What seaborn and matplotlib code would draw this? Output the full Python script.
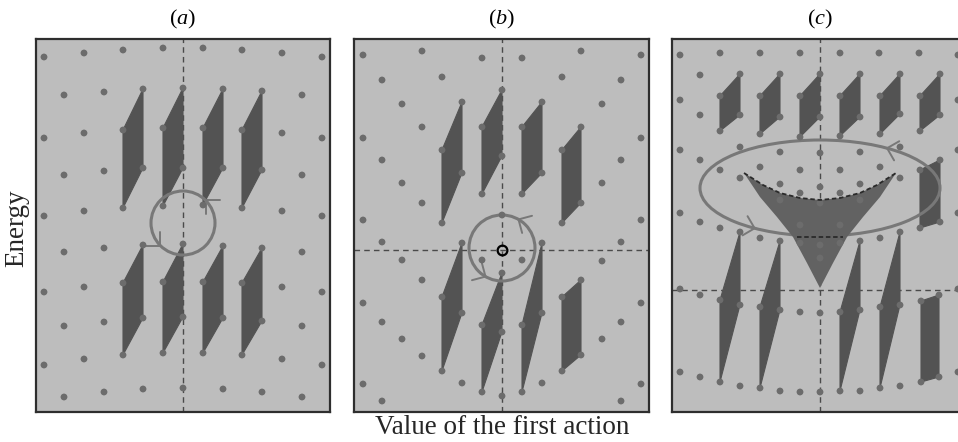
import numpy as np
import pandas as pd
import matplotlib
matplotlib.use("Agg")
import matplotlib.pyplot as plt
from matplotlib.patches import Polygon, Ellipse
import seaborn as sns

# ---------------------------------------------------------------
# Lattice points (x, y) of each panel, in panel pixel units
# (y grows downwards; axes are inverted accordingly)
# ---------------------------------------------------------------
dots_a = [
    (44, 57), (84, 53), (123, 50), (163, 48), (203, 48), (242, 50), (282, 53), (322, 57),
    (64, 95), (104, 92), (143, 89), (183, 88), (223, 89), (262, 91), (302, 95),
    (44, 138), (84, 133), (123, 130), (163, 128), (203, 128), (242, 130), (282, 133), (322, 138),
    (64, 175), (104, 171), (143, 168), (183, 168), (223, 168), (262, 170), (302, 175),
    (44, 216), (84, 211), (123, 208), (163, 206), (203, 205), (242, 208), (282, 211), (322, 216),
    (64, 252), (104, 248), (143, 245), (183, 244), (223, 246), (262, 248), (302, 252),
    (44, 292), (84, 287), (123, 283), (163, 282), (203, 282), (242, 283), (282, 287), (322, 292),
    (64, 326), (104, 322), (143, 318), (183, 317), (223, 318), (262, 321), (302, 326),
    (44, 365), (84, 359), (123, 355), (163, 353), (203, 353), (242, 355), (282, 359), (322, 365),
    (64, 397), (104, 392), (143, 389), (183, 388), (223, 389), (262, 392), (302, 397),
]

dots_b = [
    (363, 55), (422, 51), (482, 58), (522, 58), (581, 51), (641, 55),
    (382, 80), (442, 77), (562, 77), (621, 80),
    (402, 104), (462, 102), (502, 90), (542, 102), (602, 104),
    (422, 127), (482, 127), (522, 127), (581, 127),
    (363, 138), (641, 138),
    (442, 150), (562, 150),
    (382, 160), (502, 156), (621, 160),
    (462, 173), (542, 173),
    (402, 183), (602, 183),
    (482, 194), (522, 194),
    (422, 203), (581, 203),
    (363, 220), (442, 223), (562, 223), (641, 220),
    (502, 215),
    (382, 242), (462, 243), (542, 243), (621, 242),
    (402, 260), (482, 260), (522, 260), (602, 261),
    (502, 273),
    (422, 280), (581, 280),
    (442, 297), (562, 297),
    (363, 303), (641, 303),
    (462, 313), (542, 313),
    (382, 322), (482, 325), (522, 325), (621, 322),
    (502, 332),
    (402, 339), (602, 339),
    (422, 356), (581, 355),
    (442, 371), (562, 371),
    (363, 384), (462, 383), (542, 383), (641, 384),
    (482, 392), (522, 392),
    (382, 401), (502, 396), (621, 401),
]

dots_c = [
    (680, 55), (720, 53), (760, 53), (800, 53), (840, 53), (879, 53), (919, 53), (958, 55),
    (700, 75), (740, 74), (780, 74), (820, 74), (860, 74), (900, 74), (940, 74),
    (680, 100), (720, 96), (760, 96), (800, 96), (840, 96), (880, 96), (920, 96), (958, 100),
    (700, 115), (740, 115), (780, 117), (820, 117), (860, 117), (900, 114), (940, 115),
    (720, 131), (760, 134), (800, 137), (840, 136), (880, 134), (920, 131),
    (680, 150), (740, 147), (780, 152), (820, 153), (860, 152), (900, 147), (958, 150),
    (700, 160), (720, 170), (760, 167), (800, 170), (840, 170), (880, 167), (920, 170), (940, 160),
    (740, 178), (780, 184), (820, 187), (860, 184), (900, 178),
    (800, 193), (840, 193),
    (780, 200), (820, 203), (860, 200),
    (680, 213), (958, 213), (700, 222), (940, 222), (720, 228), (920, 228),
    (800, 225), (840, 225),
    (740, 232), (760, 238), (780, 241), (860, 241), (880, 238), (900, 232),
    (800, 243), (820, 245), (840, 243),
    (820, 258),
    (680, 289), (958, 289), (700, 295), (720, 300), (740, 305), (760, 307), (780, 310),
    (800, 312), (820, 313), (840, 312), (860, 310), (880, 307), (900, 305), (921, 301), (939, 295),
    (680, 372), (958, 372), (700, 377), (720, 382), (740, 386), (760, 388), (780, 391),
    (800, 392), (820, 392), (840, 391), (860, 391), (880, 388), (900, 386), (921, 382), (939, 377),
]

# Cells: four corners each (top, upper-left, lower-left, lower-right)
cells_a = [
    [(143, 89), (123, 130), (123, 208), (143, 168)],
    [(183, 88), (163, 128), (163, 206), (183, 168)],
    [(223, 89), (203, 128), (203, 205), (223, 168)],
    [(262, 91), (242, 130), (242, 208), (262, 170)],
    [(143, 245), (123, 283), (123, 355), (143, 318)],
    [(183, 244), (163, 282), (163, 353), (183, 317)],
    [(223, 246), (203, 282), (203, 353), (223, 318)],
    [(262, 248), (242, 283), (242, 355), (262, 321)],
]

cells_b = [
    [(462, 102), (442, 150), (442, 223), (462, 173)],
    [(502, 90), (482, 127), (482, 194), (502, 156)],
    [(542, 102), (522, 127), (522, 194), (542, 173)],
    [(581, 127), (562, 150), (562, 223), (581, 203)],
    [(462, 243), (442, 297), (442, 371), (462, 313)],
    [(502, 273), (482, 325), (482, 392), (502, 332)],
    [(542, 243), (522, 325), (522, 392), (542, 313)],
    [(581, 280), (562, 297), (562, 371), (581, 355)],
]

cells_c = [
    [(740, 74), (720, 96), (720, 131), (740, 115)],
    [(780, 74), (760, 96), (760, 134), (780, 117)],
    [(820, 74), (800, 96), (800, 137), (820, 117)],
    [(860, 74), (840, 96), (840, 136), (860, 117)],
    [(900, 74), (880, 96), (880, 134), (900, 114)],
    [(940, 74), (920, 96), (920, 131), (940, 115)],
    [(940, 160), (920, 170), (920, 228), (940, 222)],
    [(740, 232), (720, 300), (720, 382), (740, 305)],
    [(780, 241), (760, 307), (760, 388), (780, 310)],
    [(860, 241), (840, 312), (840, 391), (860, 310)],
    [(900, 232), (880, 307), (880, 388), (900, 305)],
    [(939, 295), (921, 301), (921, 382), (939, 377)],
]

# Degeneracy region of panel (c): curved top edge and the two flanks
wedge_top = [(744, 173), (763, 185), (780, 193), (800, 198), (820, 200),
             (840, 198), (860, 193), (877, 185), (896, 173)]
wedge_right = [(880, 197), (863, 217), (847, 237), (833, 263), (820, 288)]
wedge_left = [(807, 263), (793, 237), (777, 217), (760, 197)]
wedge_chord_x = [797, 843]
wedge_chord_y = 237

# Encircling loops: centre, radii and the positions (deg) of their arrowheads
loop_a = dict(cx=183, cy=223, rx=32, ry=32, arrows=[45, 225])
loop_b = dict(cx=502, cy=248, rx=33, ry=33, arrows=[60, 240])
loop_c = dict(cx=820, cy=188, rx=120, ry=48, arrows=[56, 237])

# Reference (dashed) lines and marked point
guides = {
    "a": dict(vx=183, hy=None),
    "b": dict(vx=502, hy=250),
    "c": dict(vx=820, hy=290),
}
marked_point_b = (502, 250)

panel_titles = ["a", "b", "c"]
xlabel = "Value of the first action"
ylabel = "Energy"

# Panel frames in pixels: left, right, top, bottom
frames = {
    "a": (36, 330, 39, 412),
    "b": (354, 649, 39, 412),
    "c": (672, 967, 39, 412),
}

# ---------------------------------------------------------------
W, H = 958, 442
sns.set_theme(style="white")
plt.rcParams["font.family"] = ["Liberation Serif", "DejaVu Serif"]
plt.rcParams["mathtext.fontset"] = "custom"
plt.rcParams["mathtext.rm"] = "Liberation Serif"
plt.rcParams["mathtext.it"] = "Liberation Serif:italic"

BG = "#bdbdbd"
DOT = "#6c6c6c"
CELL = "#535353"
LOOP = "#787878"
GUIDE = "#4a4a4a"

fig = plt.figure(figsize=(W / 100, H / 100), dpi=100)


def draw_loop(ax, loop, lw=2.2, arm=14):
    ax.add_patch(Ellipse((loop["cx"], loop["cy"]), 2 * loop["rx"], 2 * loop["ry"],
                         fill=False, ec=LOOP, lw=lw, zorder=4))
    for t_deg in loop["arrows"]:
        t = np.deg2rad(t_deg)
        px = loop["cx"] + loop["rx"] * np.cos(t)
        py = loop["cy"] - loop["ry"] * np.sin(t)
        # direction of travel (counter-clockwise on screen), in data coords
        d = np.array([-loop["rx"] * np.sin(t), -loop["ry"] * np.cos(t)])
        d /= np.linalg.norm(d)
        back = -d
        for s in (1, -1):
            a = s * np.pi / 4
            rot = np.array([[np.cos(a), -np.sin(a)], [np.sin(a), np.cos(a)]])
            v = rot @ back
            ax.plot([px, px + arm * v[0]], [py, py + arm * v[1]],
                    color=LOOP, lw=1.4, solid_capstyle="round", zorder=4)


def make_panel(key, dots, cells, loop):
    l, r, t, b = frames[key]
    ax = fig.add_axes([l / W, (H - b) / H, (r - l) / W, (b - t) / H])
    ax.set_xlim(l, r)
    ax.set_ylim(b, t)
    ax.set_facecolor(BG)
    ax.set_xticks([])
    ax.set_yticks([])
    for sp in ax.spines.values():
        sp.set_visible(True)
        sp.set_color("#2e2e2e")
        sp.set_linewidth(1.6)

    g = guides[key]
    ax.axvline(g["vx"], color=GUIDE, lw=1.0, ls=(0, (4, 3)), zorder=1)
    if g["hy"] is not None:
        ax.axhline(g["hy"], color=GUIDE, lw=1.0, ls=(0, (4, 3)), zorder=1)

    for cell in cells:
        ax.add_patch(Polygon(cell, closed=True, fc=CELL, ec=CELL, lw=0.8, zorder=2))

    draw_loop(ax, loop)

    df = pd.DataFrame(dots, columns=["x", "y"])
    sns.scatterplot(data=df, x="x", y="y", ax=ax, color=DOT, s=24,
                    edgecolor="none", zorder=6, legend=False)
    ax.set_xlabel("")
    ax.set_ylabel("")
    return ax


ax_a = make_panel("a", dots_a, cells_a, loop_a)
ax_b = make_panel("b", dots_b, cells_b, loop_b)
ax_c = make_panel("c", dots_c, cells_c, loop_c)

# marked point at the crossing of the guides in (b)
ax_b.plot([marked_point_b[0]], [marked_point_b[1]], marker="o", ms=7,
          mfc="none", mec="black", mew=1.6, zorder=7)

# degeneracy wedge in (c)
wedge = wedge_top + wedge_right + wedge_left
ax_c.add_patch(Polygon(wedge, closed=True, fc="#626262", ec="none", zorder=5))
tx, ty = zip(*wedge_top)
ax_c.plot(tx, ty, color="#2a2a2a", lw=1.3, ls=(0, (2.5, 1.5)), zorder=6.5)
ax_c.plot(wedge_chord_x, [wedge_chord_y] * 2, color="#2a2a2a", lw=1.3,
          ls=(0, (2.5, 1.5)), zorder=6.5)

# titles and shared labels
for key, name in zip(["a", "b", "c"], panel_titles):
    cx = guides[key]["vx"]
    fig.text(cx / W, 1 - 19 / H, r"($\mathit{%s}$)" % name, ha="center",
             va="center", fontsize=16, color="black")

fig.text(502 / W, 1 - 428 / H, xlabel, ha="center", va="center", fontsize=19.5)
fig.text(17 / W, 1 - 228 / H, ylabel, ha="center", va="center", rotation=90,
         fontsize=19.5)

fig.savefig("out.png", dpi=100, facecolor="white")
